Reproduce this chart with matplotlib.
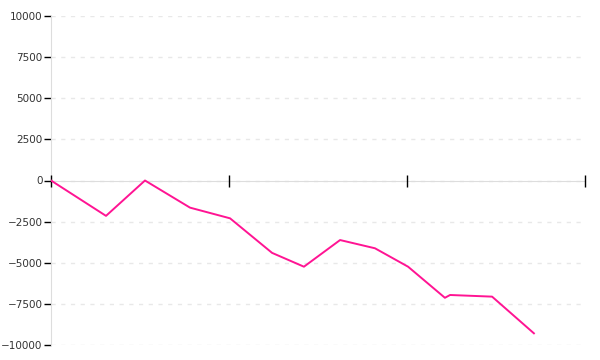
import numpy as np
import matplotlib
matplotlib.use("Agg")
import matplotlib.pyplot as plt

# series (x in tick units, y in value)
x_vals = [0.0, 0.309, 0.528, 0.781, 1.006, 1.242, 1.421, 1.624, 1.820, 2.006, 2.213, 2.242, 2.478, 2.713]
y_vals = [0, -2150, 0, -1650, -2300, -4400, -5240, -3620, -4120, -5240, -7130, -6960, -7060, -9290]
y_ticks = [-10000, -7500, -5000, -2500, 0, 2500, 5000, 7500, 10000]
x_ticks = [0, 1, 2, 3]

fig = plt.figure(figsize=(6, 3.6), dpi=100)
ax = fig.add_axes([51/600, 1 - 345/360, (585 - 51)/600, (345 - 16)/360])

ax.plot(x_vals, y_vals, color='#ff1493', linewidth=1.4, zorder=3)

ax.set_xlim(0, 3)
ax.set_ylim(-10000, 10000)
ax.set_yticks(y_ticks)
ax.set_xticks(x_ticks)
ax.set_xticklabels([])

for s in ['top', 'right']:
    ax.spines[s].set_visible(False)
ax.spines['left'].set_color('#dddddd')
ax.spines['bottom'].set_position(('data', 0))
ax.spines['bottom'].set_color('#dddddd')
ax.spines['left'].set_zorder(0.2)
ax.spines['bottom'].set_zorder(0.2)

ax.tick_params(axis='y', direction='out', length=5, width=1, color='black',
               labelsize=7.5, labelcolor='#333333', pad=1)
ax.tick_params(axis='x', direction='inout', length=9, width=1, color='black')

ax.yaxis.grid(True, linestyle=(0, (3, 4)), color='#e8e8e8', linewidth=1)
ax.xaxis.set_zorder(2.6)
ax.yaxis.set_zorder(0.1)

plt.savefig('out.png', dpi=100)
